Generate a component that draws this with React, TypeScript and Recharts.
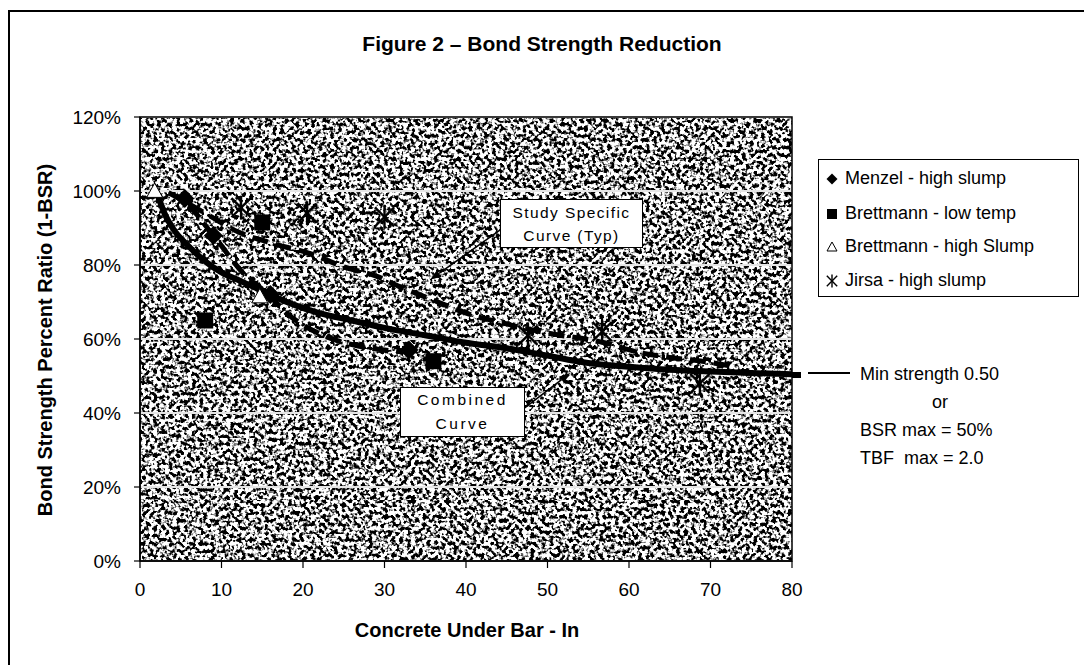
import React from 'react';
import {
  ComposedChart,
  Line,
  Scatter,
  XAxis,
  YAxis,
  CartesianGrid,
  ReferenceArea,
  ReferenceLine,
} from 'recharts';

// ---- data ----
const xTicks = [0, 10, 20, 30, 40, 50, 60, 70, 80];
const yTicks = [0, 0.2, 0.4, 0.6, 0.8, 1.0, 1.2];

// combined curve (solid)
const combinedX = [2, 3, 4, 6, 8, 10, 12, 15, 18, 22, 26, 30, 35, 40, 45, 50, 55, 60, 65, 70, 75, 80];
const combinedY = [1.0, 0.94, 0.9, 0.85, 0.81, 0.78, 0.76, 0.73, 0.7, 0.67, 0.65, 0.63, 0.61, 0.59, 0.575, 0.555, 0.535, 0.525, 0.517, 0.512, 0.508, 0.505];

// study specific curves (dashed)
const studyUpperX = [6, 8, 12, 16, 21, 25, 29, 32, 36, 40, 44, 50, 57, 61, 65, 69, 73];
const studyUpperY = [0.965, 0.94, 0.89, 0.86, 0.83, 0.795, 0.77, 0.74, 0.705, 0.67, 0.646, 0.616, 0.59, 0.565, 0.55, 0.54, 0.525];
const studyMenzelX = [3.5, 5.5, 9, 13, 15.5, 18, 23, 26, 30, 33];
const studyMenzelY = [0.995, 0.97, 0.88, 0.77, 0.725, 0.67, 0.605, 0.585, 0.57, 0.565];

// test points
const menzelX = [5.5, 9, 16, 33];
const menzelY = [0.98, 0.88, 0.72, 0.57];
const brettLowX = [8, 15, 36];
const brettLowY = [0.65, 0.915, 0.54];
const brettHighX = [1.8, 14.7];
const brettHighY = [1.0, 0.715];
const jirsaX = [12.4, 20.5, 30, 47.6, 56.7, 68.7];
const jirsaY = [0.955, 0.94, 0.93, 0.61, 0.62, 0.48];

// annotation arrows (data coords)
const studyArrow = [{ x: 44.2, y: 0.895 }, { x: 35.6, y: 0.76 }];
const combinedArrow = [{ x: 47.2, y: 0.414 }, { x: 52.8, y: 0.508 }];

const toPoints = (xs: number[], ys: number[]) => xs.map((x, i) => ({ x, y: ys[i] }));

const FONT = "Arial, 'Liberation Sans', Helvetica, sans-serif";

type Kind = 'diamond' | 'square' | 'triangle' | 'asterisk';

const Marker = ({ kind, cx, cy, size, sw = 2 }: { kind: Kind; cx: number; cy: number; size: number; sw?: number }) => {
  const h = size / 2;
  if (kind === 'diamond') {
    return <polygon points={`${cx},${cy - h} ${cx + h},${cy} ${cx},${cy + h} ${cx - h},${cy}`} fill="#000" />;
  }
  if (kind === 'square') {
    return <rect x={cx - h} y={cy - h} width={size} height={size} fill="#000" />;
  }
  if (kind === 'triangle') {
    return (
      <polygon
        points={`${cx},${cy - h} ${cx + h},${cy + h * 0.8} ${cx - h},${cy + h * 0.8}`}
        fill="#fff"
        stroke="#000"
        strokeWidth={1}
      />
    );
  }
  const a = h * 0.8;
  return (
    <g stroke="#000" strokeWidth={sw}>
      <line x1={cx - a} y1={cy - a} x2={cx + a} y2={cy + a} />
      <line x1={cx - a} y1={cy + a} x2={cx + a} y2={cy - a} />
      <line x1={cx} y1={cy - h} x2={cx} y2={cy + h} />
    </g>
  );
};

const ArrowShape = (props: any) => {
  const { x1, y1, x2, y2 } = props;
  const ang = Math.atan2(y2 - y1, x2 - x1);
  const len = 11;
  const w = 4;
  const bx = x2 - len * Math.cos(ang);
  const by = y2 - len * Math.sin(ang);
  const px = -Math.sin(ang) * w;
  const py = Math.cos(ang) * w;
  return (
    <g>
      <line x1={x1} y1={y1} x2={bx} y2={by} stroke="#000" strokeWidth={1.6} />
      <polygon points={`${x2},${y2} ${bx + px},${by + py} ${bx - px},${by - py}`} fill="#000" />
    </g>
  );
};

const legendItems: { name: string; kind: Kind; size: number }[] = [
  { name: 'Menzel - high slump', kind: 'diamond', size: 11 },
  { name: 'Brettmann - low temp', kind: 'square', size: 10 },
  { name: 'Brettmann - high Slump', kind: 'triangle', size: 10 },
  { name: 'Jirsa - high slump', kind: 'asterisk', size: 13 },
];
const legendRowTops = [18, 53, 86, 120];

const abs = (s: React.CSSProperties): React.CSSProperties => ({ position: 'absolute', ...s });

export default function App() {
  return (
    <div style={{ position: 'relative', width: 1084, height: 665, overflow: 'hidden', background: '#fff', fontFamily: FONT }}>
      <style>{`body{margin:0;}`}</style>
      <svg width={0} height={0} style={{ position: 'absolute' }}>
        <defs>
          <filter id="speckleFilter" x="0" y="0" width="100%" height="100%" colorInterpolationFilters="sRGB">
            <feTurbulence type="fractalNoise" baseFrequency="0.26" numOctaves={2} seed={7} />
            <feColorMatrix type="matrix" values="1 0 0 0 0  1 0 0 0 0  1 0 0 0 0  0 0 0 0 1" />
            <feComponentTransfer>
              <feFuncR type="linear" slope={7} intercept={-2.85} />
              <feFuncG type="linear" slope={7} intercept={-2.85} />
              <feFuncB type="linear" slope={7} intercept={-2.85} />
            </feComponentTransfer>
          </filter>
          <pattern id="speckle" patternUnits="userSpaceOnUse" width={700} height={500}>
            <rect width={700} height={500} fill="#888" filter="url(#speckleFilter)" />
          </pattern>
        </defs>
      </svg>

      <ComposedChart
        width={1084}
        height={665}
        margin={{ top: 117, right: 292, bottom: 0, left: 0 }}
        style={{ fontFamily: FONT }}
      >
        <CartesianGrid
          horizontal
          vertical={false}
          fill="url(#speckle)"
          fillOpacity={1}
          stroke="#e6e6e6"
          strokeWidth={2}
          horizontalValues={yTicks}
        />
        <XAxis
          type="number"
          dataKey="x"
          domain={[0, 80]}
          ticks={xTicks}
          allowDataOverflow
          height={104}
          tickSize={7}
          tickMargin={15}
          axisLine={{ stroke: '#000', strokeWidth: 1.5 }}
          tickLine={{ stroke: '#000', strokeWidth: 1.2 }}
          tick={{ fontSize: 19, fill: '#000', fontFamily: FONT }}
        />
        <YAxis
          type="number"
          dataKey="y"
          domain={[0, 1.2]}
          ticks={yTicks}
          allowDataOverflow
          width={140}
          tickSize={6}
          tickMargin={13}
          axisLine={{ stroke: '#000', strokeWidth: 1.5 }}
          tickLine={{ stroke: '#000', strokeWidth: 1.2 }}
          tick={{ fontSize: 19, fill: '#000', fontFamily: FONT }}
          tickFormatter={(v: number) => `${Math.round(v * 100)}%`}
        />
        <ReferenceArea x1={0} x2={80} y1={0} y2={1.2} fill="none" stroke="#000" strokeWidth={1.5} />

        <Line
          data={toPoints(studyUpperX, studyUpperY)}
          dataKey="y"
          type="monotone"
          stroke="#000"
          strokeWidth={5}
          strokeDasharray="16 8"
          dot={false}
          isAnimationActive={false}
        />
        <Line
          data={toPoints(studyMenzelX, studyMenzelY)}
          dataKey="y"
          type="monotone"
          stroke="#000"
          strokeWidth={5}
          strokeDasharray="16 8"
          dot={false}
          isAnimationActive={false}
        />
        <Line
          data={toPoints(combinedX, combinedY)}
          dataKey="y"
          type="monotone"
          stroke="#000"
          strokeWidth={6}
          dot={false}
          isAnimationActive={false}
        />

        <Scatter
          name="Menzel - high slump"
          data={toPoints(menzelX, menzelY)}
          dataKey="y"
          isAnimationActive={false}
          shape={(p: any) => <Marker kind="diamond" cx={p.cx} cy={p.cy} size={19} />}
        />
        <Scatter
          name="Brettmann - low temp"
          data={toPoints(brettLowX, brettLowY)}
          dataKey="y"
          isAnimationActive={false}
          shape={(p: any) => <Marker kind="square" cx={p.cx} cy={p.cy} size={16} />}
        />
        <Scatter
          name="Brettmann - high Slump"
          data={toPoints(brettHighX, brettHighY)}
          dataKey="y"
          isAnimationActive={false}
          shape={(p: any) => <Marker kind="triangle" cx={p.cx} cy={p.cy} size={16} />}
        />
        <Scatter
          name="Jirsa - high slump"
          data={toPoints(jirsaX, jirsaY)}
          dataKey="y"
          isAnimationActive={false}
          shape={(p: any) => <Marker kind="asterisk" cx={p.cx} cy={p.cy} size={24} sw={2.4} />}
        />

        <ReferenceLine segment={studyArrow} shape={ArrowShape} />
        <ReferenceLine segment={combinedArrow} shape={ArrowShape} />
      </ComposedChart>

      {/* page frame */}
      <div style={abs({ left: 8, top: 10, width: 1076, height: 2, background: '#000' })} />
      <div style={abs({ left: 8, top: 10, width: 2, height: 655, background: '#000' })} />

      {/* title */}
      <div style={abs({ left: 242, top: 31, width: 600, textAlign: 'center', fontSize: 21, fontWeight: 'bold', lineHeight: '26px' })}>
        Figure 2 – Bond Strength Reduction
      </div>

      {/* axis titles */}
      <div
        style={abs({
          left: 45 - 250,
          top: 340 - 13,
          width: 500,
          lineHeight: '26px',
          textAlign: 'center',
          fontSize: 20,
          fontWeight: 'bold',
          transform: 'rotate(-90deg)',
        })}
      >
        Bond Strength Percent Ratio (1-BSR)
      </div>
      <div style={abs({ left: 217, top: 617, width: 500, textAlign: 'center', fontSize: 20, fontWeight: 'bold', lineHeight: '26px' })}>
        Concrete Under Bar - In
      </div>

      {/* legend */}
      <div style={abs({ left: 818, top: 159, width: 261, height: 138, border: '1px solid #000', background: '#fff', boxSizing: 'border-box' })}>
        {legendItems.map((it, i) => (
          <div key={it.name} style={abs({ left: 0, top: legendRowTops[i] - 12, height: 24, width: 259 })}>
            <svg width={20} height={24} style={{ position: 'absolute', left: 3, top: 0 }}>
              <Marker kind={it.kind} cx={10} cy={13} size={it.size} sw={1.4} />
            </svg>
            <div style={abs({ left: 26, top: 0, lineHeight: '24px', fontSize: 18, whiteSpace: 'nowrap' })}>{it.name}</div>
          </div>
        ))}
      </div>

      {/* annotation boxes */}
      <div
        style={abs({
          left: 500,
          top: 199,
          width: 143,
          height: 49,
          border: '1.5px solid #000',
          background: '#fff',
          boxSizing: 'border-box',
          textAlign: 'center',
          fontSize: 15.5,
          letterSpacing: 1.4,
          lineHeight: '23px',
          paddingTop: 1,
        })}
      >
        Study Specific
        <br />
        Curve (Typ)
      </div>
      <div
        style={abs({
          left: 400,
          top: 387,
          width: 125,
          height: 50,
          border: '1.5px solid #000',
          background: '#fff',
          boxSizing: 'border-box',
          textAlign: 'center',
          fontSize: 15.5,
          letterSpacing: 2.5,
          lineHeight: '24px',
        })}
      >
        Combined
        <br />
        Curve
      </div>

      {/* min strength note */}
      <div style={abs({ left: 792, top: 372, width: 9, height: 6, background: '#000' })} />
      <div style={abs({ left: 808, top: 372, width: 42, height: 1.5, background: '#000' })} />
      <div style={abs({ left: 860, top: 360, fontSize: 18, lineHeight: '28px', whiteSpace: 'pre' })}>
        <div>Min strength 0.50</div>
        <div style={{ paddingLeft: 72 }}>or</div>
        <div>BSR max = 50%</div>
        <div>{'TBF  max = 2.0'}</div>
      </div>
    </div>
  );
}
